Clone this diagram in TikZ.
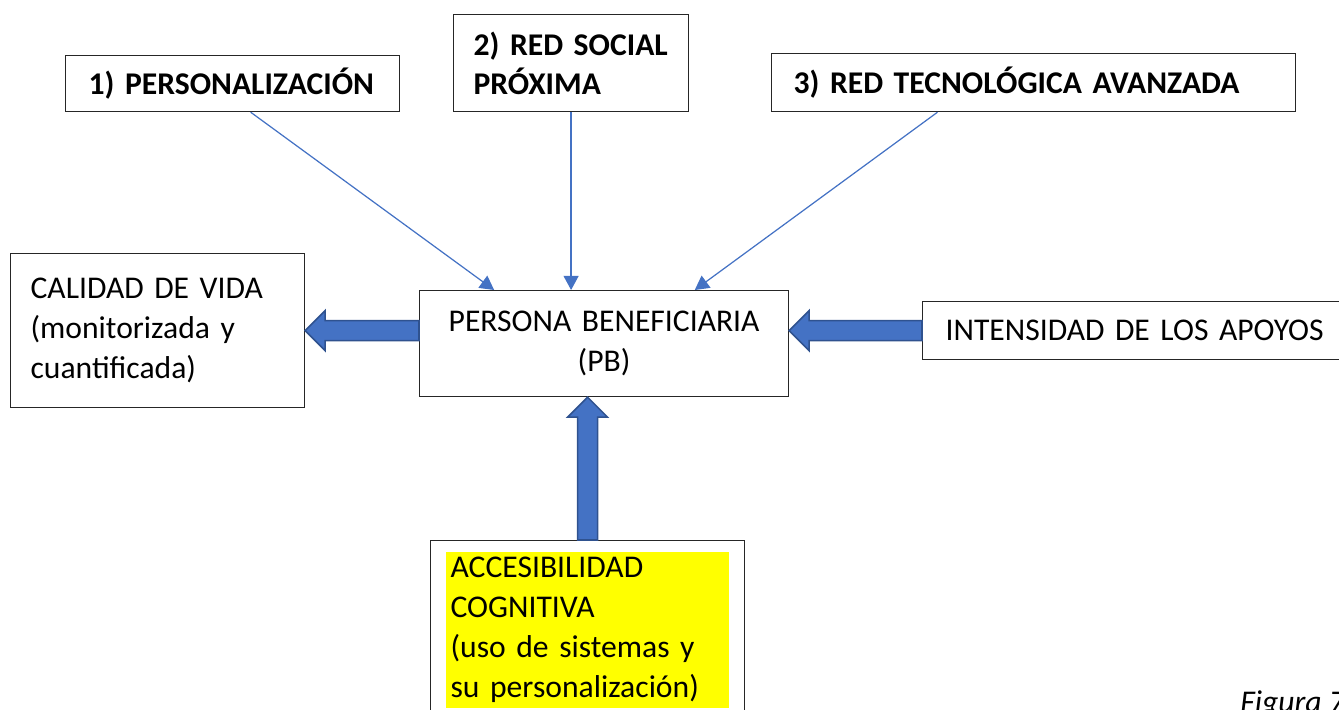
\documentclass[tikz,border=0pt]{standalone}
\usepackage{fontspec}
\setmainfont{Carlito}
\usepackage{xcolor}
\usepackage{tikz}
\usetikzlibrary{calc}
\usetikzlibrary{arrows.meta}
\definecolor{azul}{HTML}{4472C4}
\definecolor{azulborde}{HTML}{2F528F}
\definecolor{resalte}{HTML}{FFFF00}
\tikzstyle{caja} = [draw=black!85, line width=0.7pt, rectangle, anchor=north west,
align=left, inner ysep=0pt, font=\fontsize{18}{22.7}\selectfont]
\tikzstyle{cajatitulo} = [caja, font=\fontsize{18}{22}\selectfont\bfseries]
\tikzstyle{flechafina} = [draw=azul, line width=0.7pt, -{Triangle[length=8pt,width=8.5pt]}]
\tikzstyle{flechagruesa} = [draw=azulborde, fill=azul, line width=0.9pt, line join=miter]

% flecha ancha de #1 a #2
\newcommand{\bloque}[2]{%
  \coordinate (ini) at (#1);
  \coordinate (fin) at (#2);
  \coordinate (base) at ($(fin)!0.4cm!(ini)$);
  \draw[flechagruesa] ($(ini)!0.2cm!90:(fin)$) -- ($(base)!0.2cm!-90:(ini)$)
    -- ($(base)!0.4cm!-90:(ini)$) -- (fin) -- ($(base)!0.4cm!90:(ini)$)
    -- ($(base)!0.2cm!90:(ini)$) -- ($(ini)!0.2cm!-90:(fin)$) -- cycle;}

\begin{document}
\begin{tikzpicture}[x=0.02cm, y=-0.02cm]
        \useasboundingbox (0,0) rectangle (1339,710);
        \clip (0,0) rectangle (1339,710);

        % cajas de arriba
        \node [cajatitulo, minimum width=6.68cm, minimum height=1.12cm, inner xsep=0.46cm,
            text width=5.76cm] (pers) at (65,55) {1) PERSONALIZACIÓN};
        \node [cajatitulo, minimum width=4.7cm, minimum height=1.94cm, inner xsep=0.4cm,
            text width=3.9cm] (social) at (453,14) {2) RED SOCIAL\\PRÓXIMA};
        \node [cajatitulo, minimum width=10.48cm, minimum height=1.16cm, inner xsep=0.44cm,
            text width=9.6cm] (tecno) at (771,53) {3) RED TECNOLÓGICA AVANZADA};

        % fila central
        \node [caja, minimum width=5.88cm, minimum height=3.08cm, inner xsep=0.4cm,
            text width=5.08cm] (calidad) at (10,253) {CALIDAD DE VIDA\\(monitorizada y\\cuantificada)};
        \node [caja, align=center, minimum width=7.38cm, minimum height=2.12cm, inner xsep=0.4cm,
            text width=6.58cm] (pb) at (419,290) {PERSONA BENEFICIARIA\\(PB)};
        \node [caja, minimum width=8.76cm, minimum height=1.16cm, inner xsep=0.46cm,
            text width=7.84cm] (intens) at (922,301) {INTENSIDAD DE LOS APOYOS};

        % caja de abajo
        \node [caja, minimum width=6.28cm, minimum height=4cm] (acces) at (430,540) {};
        \node [caja, draw=none, fill=resalte, minimum height=3.12cm, inner xsep=0.1cm,
            text width=5.46cm] (accestexto) at (445,551)
            {ACCESIBILIDAD\\COGNITIVA\\(uso de sistemas y\\su personalización)};

        \node [font=\fontsize{18}{22}\selectfont\itshape, anchor=base west, inner sep=0pt] (figura) at (1240,712) {Figura 7};

        % flechas finas
        \draw [flechafina] ($(pers.south west)!0.554!(pers.south east)$) -- ($(pb.north west)!0.203!(pb.north east)$);
        \draw [flechafina] (social.south) -- (social.south |- pb.north);
        \draw [flechafina] ($(tecno.south west)!0.317!(tecno.south east)$) -- ($(pb.north west)!0.745!(pb.north east)$);

        % flechas anchas
        \bloque{pb.west |- calidad.east}{calidad.east}
        \bloque{intens.west}{pb.east |- intens.west}
        \bloque{acces.north}{acces.north |- pb.south}
    \end{tikzpicture}
\end{document}
